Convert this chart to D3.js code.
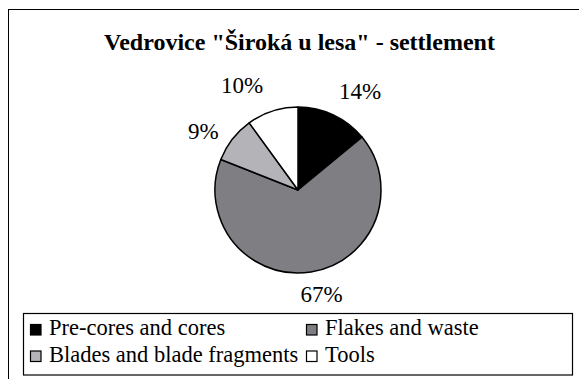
<!DOCTYPE html>
<html><head><meta charset="utf-8">
<script src="https://cdn.jsdelivr.net/npm/d3@7/dist/d3.min.js"></script>
</head><body style="margin:0;background:#fff">
<svg id="chart" width="579" height="379"></svg>
<script>
const title = 'Vedrovice "Široká u lesa" - settlement';
const categories = ["Pre-cores and cores", "Flakes and waste", "Blades and blade fragments", "Tools"];
const values = [14, 67, 9, 10];
const colors = ["#000000", "#7e7e83", "#b4b4b8", "#ffffff"];

// layout config (not data)
const labelNudge = [[14, 4], [6, -7], [-5.5, 11], [-21, 3.5]];
const FONT = "Tinos, Times, serif";

const svg = d3.select("#chart");

// outer frame (continues beyond the picture on right and bottom)
svg.append("rect").attr("x", 8.5).attr("y", 9.5).attr("width", 620).attr("height", 420)
  .attr("fill", "#fff").attr("stroke", "#000").attr("stroke-width", 1);

svg.append("text").attr("x", 299.5).attr("y", 50).attr("text-anchor", "middle")
  .style("font-family", FONT).style("font-weight", "bold").style("font-size", "24px")
  .text(title);

const cx = 298, cy = 190, r = 83;
const pie = d3.pie().sort(null).value(d => d)(values);
const arc = d3.arc().innerRadius(0).outerRadius(r);
const labelArc = d3.arc().innerRadius(113).outerRadius(113);
const total = d3.sum(values);

const g = svg.append("g").attr("transform", `translate(${cx},${cy})`);
g.selectAll("path").data(pie).join("path")
  .attr("d", arc).attr("fill", (d, i) => colors[i])
  .attr("stroke", "#000").attr("stroke-width", 1.5).attr("stroke-linejoin", "round");

g.selectAll("text.lbl").data(pie).join("text").attr("class", "lbl")
  .attr("x", (d, i) => labelArc.centroid(d)[0] + labelNudge[i][0])
  .attr("y", (d, i) => labelArc.centroid(d)[1] + labelNudge[i][1] + 7)
  .attr("text-anchor", "middle")
  .style("font-family", FONT).style("font-size", "23px")
  .text(d => Math.round(d.value / total * 100) + "%");

// legend
svg.append("rect").attr("x", 23.5).attr("y", 313.5).attr("width", 549).attr("height", 61.5)
  .attr("fill", "#fff").attr("stroke", "#000").attr("stroke-width", 1.2);

const colX = [30, 306], rowY = [324, 350.5];
const lg = svg.append("g");
categories.forEach((c, i) => {
  const col = i % 2, row = Math.floor(i / 2);
  lg.append("rect").attr("x", colX[col] + 0.5).attr("y", rowY[row] + 0.5)
    .attr("width", 10.5).attr("height", 10.5)
    .attr("fill", colors[i]).attr("stroke", "#000").attr("stroke-width", 1.2);
  lg.append("text").attr("x", colX[col] + 19).attr("y", rowY[row] + 11)
    .style("font-family", FONT).style("font-size", "22.5px")
    .text(c);
});
</script>
</body></html>
